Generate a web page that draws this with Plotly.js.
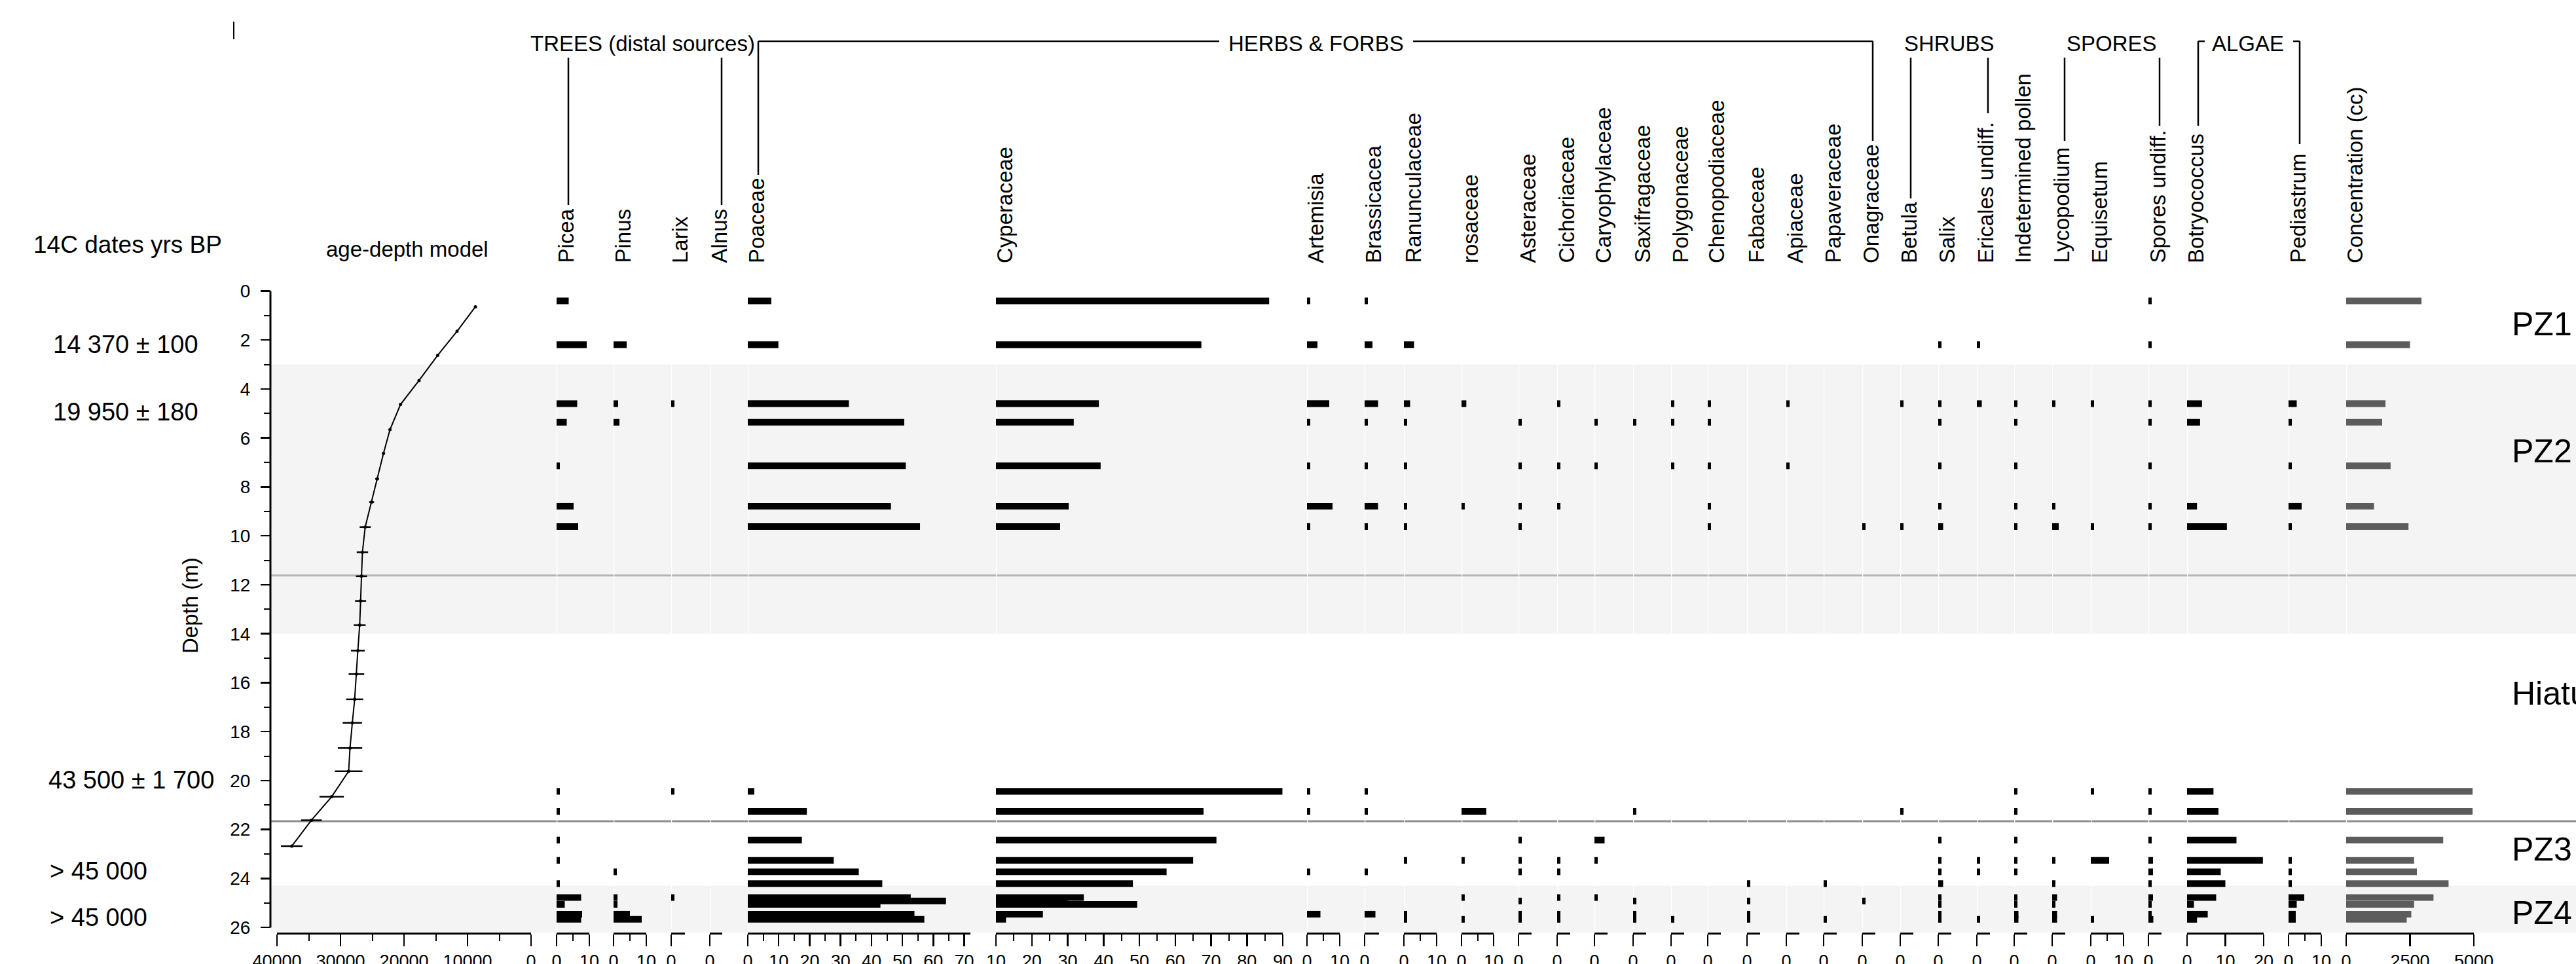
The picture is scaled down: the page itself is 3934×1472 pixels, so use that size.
<!DOCTYPE html>
<html>
<head>
<meta charset="utf-8">
<script src="https://cdn.plot.ly/plotly-3.0.1.min.js"></script>
<style>html,body{margin:0;padding:0;background:#fff;}#chart{width:3934px;height:1472px;}</style>
</head>
<body>
<div id="chart"></div>
<script>
// ---------------- DATA ----------------
const sampleDepths = [0.40, 2.19, 4.60, 5.36, 7.14, 8.79, 9.62, 20.44, 21.26, 22.43, 23.26, 23.73, 24.21, 24.78, 24.92, 25.06, 25.46, 25.67];

const taxa = ["Picea","Pinus","Larix","Alnus","Poaceae","Cyperaceae","Artemisia","Brassicacea","Ranunculaceae","rosaceae","Asteraceae","Cichoriaceae","Caryophylaceae","Saxifragaceae","Polygonaceae","Chenopodiaceae","Fabaceae","Apiaceae","Papaveraceae","Onagraceae","Betula","Salix","Ericales undiff.","Indetermined pollen","Lycopodium","Equisetum","Spores undiff.","Botryococcus","Pediastrum","Concentration (cc)"];

const picea          = [3.7, 9.2, 6.3, 3.1, 1, 5.2, 6.6, 1, 1, 1, 1, 0, 1, 7.5, 0, 2.5, 7.8, 7.5];
const pinus          = [0, 4.0, 1.4, 1.8, 0, 0, 0, 0, 0, 0, 0, 1, 0, 1.2, 0, 1.2, 5.0, 8.6];
const larix          = [0, 0, 1, 0, 0, 0, 0, 1, 0, 0, 0, 0, 0, 1, 0, 0, 0, 0];
const alnus          = [0, 0, 0, 0, 0, 0, 0, 0, 0, 0, 0, 0, 0, 0, 0, 0, 0, 0];
const poaceae        = [7.6, 9.9, 32.7, 50.6, 51.1, 46.3, 55.7, 2.1, 19.1, 17.5, 27.8, 35.9, 43.5, 52.7, 64.1, 42.9, 53.9, 57.1];
const cyperaceae     = [86.2, 67.3, 38.7, 31.7, 39.2, 30.3, 27.9, 89.9, 67.9, 71.5, 65, 57.6, 48.2, 34.5, 30, 49.4, 23.1, 12.8];
const artemisia      = [1, 3.2, 6.8, 1, 1, 7.8, 1, 1, 1, 0, 0, 1, 0, 0, 0, 0, 4.1, 0];
const brassicacea    = [1, 2.4, 4.1, 1, 1, 4.1, 1, 1, 1, 0, 0, 1, 0, 0, 0, 0, 3.3, 0];
const ranunculaceae  = [0, 3.1, 1.9, 1, 1, 1, 1, 0, 0, 0, 1, 0, 0, 0, 0, 0, 1, 1];
const rosaceae       = [0, 0, 1.5, 0, 0, 1, 0, 0, 7.7, 0, 1, 0, 0, 1, 0, 0, 0, 1];
const asteraceae     = [0, 0, 0, 1, 1, 1, 1, 0, 0, 1, 1, 1, 0, 0, 1, 0, 1, 1];
const cichoriaceae   = [0, 0, 1, 0, 1, 1, 0, 0, 0, 0, 1, 1, 0, 1, 0, 0, 1, 1];
const caryophylaceae = [0, 0, 0, 1, 1, 0, 0, 0, 0, 3.1, 1, 0, 0, 1, 0, 0, 0, 0];
const saxifragaceae  = [0, 0, 0, 1, 0, 0, 0, 0, 1, 0, 0, 0, 0, 0, 1, 0, 1, 1];
const polygonaceae   = [0, 0, 1, 1, 1, 0, 0, 0, 0, 0, 0, 0, 0, 0, 0, 0, 0, 1];
const chenopodiaceae = [0, 0, 1, 1, 1, 1, 1, 0, 0, 0, 0, 0, 0, 0, 0, 0, 0, 0];
const fabaceae       = [0, 0, 0, 0, 0, 0, 0, 0, 0, 0, 0, 0, 1, 0, 1, 0, 1, 1];
const apiaceae       = [0, 0, 1, 0, 1, 0, 0, 0, 0, 0, 0, 0, 0, 0, 0, 0, 0, 0];
const papaveraceae   = [0, 0, 0, 0, 0, 0, 0, 0, 0, 0, 0, 0, 1, 0, 0, 0, 0, 1];
const onagraceae     = [0, 0, 0, 0, 0, 0, 1, 0, 0, 0, 0, 0, 0, 0, 1, 0, 0, 0];
const betula         = [0, 0, 1, 0, 0, 0, 1, 0, 1, 0, 0, 0, 0, 0, 0, 0, 0, 0];
const salix          = [0, 1, 1, 1, 1, 1, 1.5, 0, 0, 1, 1, 1, 1.5, 1, 0, 1, 1, 1];
const ericales       = [0, 1, 1.5, 0, 0, 0, 0, 0, 0, 0, 1, 1, 0, 0, 0, 0, 0, 1];
const indetermined   = [0, 0, 1, 1, 1, 1, 1, 1, 1, 1, 1, 1, 0, 1, 0, 1, 1.3, 1.3];
const lycopodium     = [0, 0, 1, 0, 0, 1, 2, 0, 0, 0, 1, 0, 1, 1.5, 0, 1, 1.5, 1.5];
const equisetum      = [0, 0, 1, 0, 0, 0, 1, 1, 0, 0, 5.6, 0, 0, 0, 0, 0, 0, 1];
const sporesUndiff   = [1, 1, 1, 1, 1, 1, 1, 1, 1, 1, 1.4, 1.4, 1, 1.4, 0, 1, 1, 1.5];
const botryococcus   = [0, 0, 3.9, 3.4, 0, 2.6, 10.4, 6.9, 8.2, 12.9, 19.8, 8.8, 10, 7.6, 0, 1.8, 5.4, 2.6];
const pediastrum     = [0, 0, 2.5, 1, 1, 4.0, 1, 0, 0, 0, 1, 1, 1, 4.8, 0, 2.5, 2.2, 2.2];
const concentration  = [2950, 2500, 1540, 1410, 1740, 1090, 2440, 4950, 4950, 3800, 2660, 2770, 4010, 3420, 0, 2660, 2550, 2370];

const taxaValues = [picea, pinus, larix, alnus, poaceae, cyperaceae, artemisia, brassicacea, ranunculaceae, rosaceae, asteraceae, cichoriaceae, caryophylaceae, saxifragaceae, polygonaceae, chenopodiaceae, fabaceae, apiaceae, papaveraceae, onagraceae, betula, salix, ericales, indetermined, lycopodium, equisetum, sporesUndiff, botryococcus, pediastrum, concentration];

// age-depth model
const modelDepths = [0.64, 1.64, 2.62, 3.65, 4.63, 5.66, 6.63, 7.67, 8.62, 9.64, 10.67, 11.65, 12.66, 13.65, 14.69, 15.65, 16.68, 17.64, 18.67, 19.62, 20.66, 21.62, 22.68];
const modelAges   = [8760, 11650, 14690, 17630, 20550, 22210, 23230, 24230, 25100, 26110, 26550, 26700, 26840, 26980, 27270, 27490, 27770, 28140, 28500, 28720, 31390, 34580, 37680];
const modelErrors = [60, 80, 100, 120, 150, 180, 220, 300, 400, 870, 900, 870, 870, 940, 1085, 1230, 1340, 1520, 1920, 2170, 1920, 1630, 1700];

// 14C dates
const dateLabels = ["14 370 \u00b1 100", "19 950 \u00b1 180", "43 500 \u00b1 1 700", "> 45 000", "> 45 000"];
const dateDepths = [2.17, 4.93, 19.97, 23.7, 25.6];

// pollen zones
const zoneLabels = ["PZ1", "PZ2", "Hiatus", "PZ3", "PZ4"];
const zoneLabelDepths = [1.35, 6.55, 16.45, 22.8, 25.4];
const shadedZones = [[3.0, 14.0], [24.3, 26.21]];
const zoneBoundaries = [11.62, 21.66];

// ---------------- LAYOUT ----------------
const W = 3934, H = 1472;
const PX = x => x / W;
const PY = y => 1 - y / H;
const plotTop = 435, plotBot = 1424, depthAxisX = 413;
const FONT = "Liberation Sans, Arial, Helvetica, sans-serif";

// panel geometry: [left px, right px, min, max, dtick, minor dtick]
const ageGeom = [423, 811, 40000, 0, 10000, 5000];
const panelGeom = [
  [850, 900, 0, 10, 10, 5],     // Picea
  [937, 987, 0, 10, 10, 5],     // Pinus
  [1025, 1046, 0, 4.2, 10, 5],  // Larix
  [1084, 1103, 0, 3.8, 10, 5],  // Alnus
  [1142, 1482, 0, 72, 10, 5],   // Poaceae
  [1521, 1959, 10, 90, 10, 5],  // Cyperaceae
  [1996, 2046, 0, 10, 10, 5],   // Artemisia
  [2084, 2106, 0, 4.4, 10, 5],  // Brassicacea
  [2144, 2194, 0, 10, 10, 5],   // Ranunculaceae
  [2232, 2281, 0, 10, 10, 5],   // rosaceae
  [2319, 2339, 0, 4, 10, 5],
  [2378, 2398, 0, 4, 10, 5],
  [2435, 2455, 0, 4, 10, 5],
  [2494, 2514, 0, 4, 10, 5],
  [2552, 2572, 0, 4, 10, 5],
  [2608, 2628, 0, 4, 10, 5],
  [2668, 2688, 0, 4, 10, 5],
  [2728, 2748, 0, 4, 10, 5],
  [2785, 2805, 0, 4, 10, 5],
  [2844, 2864, 0, 4, 10, 5],
  [2902, 2922, 0, 4, 10, 5],
  [2960, 2980, 0, 4, 10, 5],
  [3019, 3039, 0, 4, 10, 5],
  [3076, 3096, 0, 4, 10, 5],
  [3134, 3154, 0, 4, 10, 5],
  [3193, 3243, 0, 10, 10, 5],   // Equisetum
  [3281, 3301, 0, 4, 10, 5],
  [3340, 3457, 0, 20, 10, 0],   // Botryococcus
  [3495, 3545, 0, 10, 10, 5],   // Pediastrum
  [3583, 3778, 0, 5000, 2500, 0] // Concentration
];
const NP = panelGeom.length + 1; // incl. age panel

const layout = {
  width: W, height: H,
  margin: {l: 0, r: 0, t: 0, b: 0, pad: 0},
  paper_bgcolor: "#ffffff",
  plot_bgcolor: "rgba(0,0,0,0)",
  showlegend: false,
  hovermode: false,
  barmode: "overlay",
  font: {family: FONT, color: "#000", size: 27},
  shapes: [],
  annotations: []
};

layout.yaxis = {
  domain: [PY(plotBot), PY(plotTop)],
  range: [26.21, -0.254],
  anchor: "free", position: PX(depthAxisX), side: "left",
  showline: false, showgrid: false, zeroline: false,
  ticks: "outside", ticklen: 15, tickwidth: 2.5, tickcolor: "#000",
  tick0: 0, dtick: 2,
  minor: {dtick: 1, tick0: 0, ticks: "outside", ticklen: 10, tickwidth: 2, tickcolor: "#000", showgrid: false},
  ticklabelstandoff: 10,
  tickfont: {size: 28, color: "#000"},
  fixedrange: true
};

function axisPair(n, g) {
  const [l, r, mn, mx, dt, mdt] = g;
  const base = {
    range: [mn, mx], anchor: "y",
    showgrid: false, zeroline: false,
    showline: true, linewidth: 3, linecolor: "#000",
    ticks: "outside", tickwidth: 2.5, tickcolor: "#000",
    tick0: 0, dtick: dt, tickformat: "d",
    fixedrange: true
  };
  const bottom = Object.assign({}, base, {
    domain: [PX(l), PX(r)], side: "bottom", ticklen: 18,
    showticklabels: true, tickfont: {size: 27, color: "#000"}, ticklabelstandoff: 0
  });
  const top = Object.assign({}, base, {
    overlaying: n === 1 ? "x" : "x" + n, side: "top", ticklen: 14, showticklabels: false
  });
  if (mdt) {
    bottom.minor = {dtick: mdt, tick0: 0, ticks: "outside", ticklen: 10, tickwidth: 2, tickcolor: "#000", showgrid: false};
    top.minor = {dtick: mdt, tick0: 0, ticks: "outside", ticklen: 7, tickwidth: 2, tickcolor: "#000", showgrid: false};
  }
  layout["xaxis" + (n === 1 ? "" : n)] = bottom;
  layout["xaxis" + (n + NP)] = top;
}

axisPair(1, ageGeom);
panelGeom.forEach((g, i) => axisPair(i + 2, g));

// background shading & zone lines (below everything)
shadedZones.forEach(z => layout.shapes.push({
  type: "rect", xref: "paper", yref: "y", x0: PX(depthAxisX), x1: 1, y0: z[0], y1: z[1],
  fillcolor: "#f4f4f4", line: {width: 0}, layer: "below"
}));
zoneBoundaries.forEach((d, i) => layout.shapes.push({
  type: "line", xref: "paper", yref: "y", x0: PX(depthAxisX), x1: 1, y0: d, y1: d,
  line: {color: i === 0 ? "#b4b4b4" : "#8e8e8e", width: 3}, layer: "below"
}));
// white column separators at each panel origin
panelGeom.forEach((g, i) => layout.shapes.push({
  type: "line", xref: "x" + (i + 2), yref: "paper", x0: g[2], x1: g[2], y0: PY(plotBot), y1: PY(plotTop),
  line: {color: "#ffffff", width: 2.5}, layer: "below"
}));
// depth axis line (0 - 26 m)
layout.shapes.push({type: "line", xref: "paper", yref: "y", x0: PX(depthAxisX), x1: PX(depthAxisX), y0: 0, y1: 26,
  line: {color: "#000", width: 3}});
// stray mark top-left
layout.shapes.push({type: "line", xref: "paper", yref: "paper", x0: PX(357), x1: PX(357), y0: PY(33), y1: PY(60), line: {color: "#000", width: 2}});

// group brackets
const bracketLines = [
  [868, 88, 868, 313], [1102, 88, 1102, 313],
  [1158, 63, 1158, 267], [1158, 63, 1862, 63], [2158, 63, 2860, 63], [2860, 63, 2860, 215],
  [2918, 88, 2918, 303], [3036, 88, 3036, 173],
  [3153, 88, 3153, 215], [3298, 88, 3298, 192],
  [3357, 63, 3357, 192], [3357, 63, 3367, 63], [3512, 63, 3512, 220], [3502, 63, 3512, 63]
];
bracketLines.forEach(b => layout.shapes.push({
  type: "line", xref: "paper", yref: "paper", x0: PX(b[0]), y0: PY(b[1]), x1: PX(b[2]), y1: PY(b[3]),
  line: {color: "#000", width: 2.5}
}));

const groupLabels = [["TREES (distal sources)", 981], ["HERBS & FORBS", 2010], ["SHRUBS", 2977], ["SPORES", 3225], ["ALGAE", 3433]];
groupLabels.forEach(g => layout.annotations.push({
  text: g[0], xref: "paper", yref: "paper", x: PX(g[1]), y: PY(66), xanchor: "center", yanchor: "middle",
  showarrow: false, font: {size: 33, color: "#000", family: FONT}
}));

// taxon labels (rotated)
taxa.forEach((t, i) => layout.annotations.push({
  text: t, xref: "paper", yref: "paper", x: PX(panelGeom[i][0] + 14), y: PY(404),
  xanchor: "center", yanchor: "bottom", textangle: -90, showarrow: false,
  font: {size: 33, color: "#000", family: FONT}
}));

// headings
layout.annotations.push({text: "14C dates yrs BP", xref: "paper", yref: "paper", x: PX(195), y: PY(373),
  xanchor: "center", yanchor: "middle", showarrow: false, font: {size: 37, family: FONT}});
layout.annotations.push({text: "age-depth model", xref: "paper", yref: "paper", x: PX(622), y: PY(380),
  xanchor: "center", yanchor: "middle", showarrow: false, font: {size: 33, family: FONT}});
layout.annotations.push({text: "Depth (m)", xref: "paper", yref: "paper", x: PX(290), y: PY(925),
  xanchor: "center", yanchor: "middle", textangle: -90, showarrow: false, font: {size: 33, family: FONT}});

// 14C date labels
const dateCenters = [192, 192, 200, 150, 150];
dateLabels.forEach((t, i) => layout.annotations.push({
  text: t, xref: "paper", yref: "y", x: PX(dateCenters[i]), y: dateDepths[i],
  xanchor: "center", yanchor: "middle", showarrow: false, font: {size: 38, family: FONT}
}));

// zone labels
zoneLabels.forEach((t, i) => layout.annotations.push({
  text: t, xref: "paper", yref: "y", x: PX(3834), y: zoneLabelDepths[i],
  xanchor: "left", yanchor: "middle", showarrow: false, font: {size: 50, family: FONT}
}));

// ---------------- TRACES ----------------
const traces = [];
traces.push({
  type: "scatter", mode: "lines+markers", x: modelAges, y: modelDepths,
  xaxis: "x", yaxis: "y",
  line: {color: "#000", width: 2}, marker: {color: "#000", size: 5},
  error_x: {type: "data", array: modelErrors, visible: true, width: 0, thickness: 2.5, color: "#000"},
  hoverinfo: "skip"
});
taxaValues.forEach((vals, i) => traces.push({
  type: "bar", orientation: "h", x: vals, y: sampleDepths, width: 0.27,
  xaxis: "x" + (i + 2), yaxis: "y",
  marker: {color: i === taxaValues.length - 1 ? "#5c5c5c" : "#000000", line: {width: 0}},
  hoverinfo: "skip"
}));

Plotly.newPlot("chart", traces, layout, {staticPlot: true, displayModeBar: false});
</script>
</body>
</html>
